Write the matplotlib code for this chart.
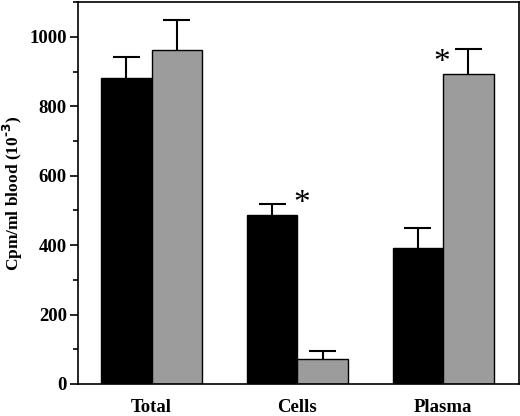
import numpy as np
import matplotlib
matplotlib.use("Agg")
import matplotlib.pyplot as plt
from matplotlib.ticker import MultipleLocator

# datos
categories = ["Total", "Cells", "Plasma"]
black_vals = [880, 487, 393]
black_err = [61, 31, 57]
gray_vals = [962, 71, 893]
gray_err = [86, 23, 71]
signif_black = [False, True, False]
signif_gray = [False, False, True]

plt.rcParams['font.family'] = ['Liberation Serif', 'DejaVu Serif']
plt.rcParams['font.weight'] = 'bold'

fig = plt.figure(figsize=(5.2, 4.16), dpi=100)
ax = fig.add_axes([0.15, 0.077, 0.848, 0.918])

x = np.arange(len(categories))
w = 0.346
cap = 0.093

ax.bar(x - w / 2, black_vals, w, color='black', edgecolor='black', linewidth=1.0, zorder=2)
ax.bar(x + w / 2, gray_vals, w, color='#9c9c9c', edgecolor='black', linewidth=1.0, zorder=2)

# barras de error solo hacia arriba
def up_err(xs, vals, errs):
    xs = np.asarray(xs)
    vals = np.asarray(vals)
    tops = vals + np.asarray(errs)
    ax.vlines(xs, vals, tops, color='black', linewidth=1.5, zorder=1)
    ax.hlines(tops, xs - cap, xs + cap, color='black', linewidth=1.5, zorder=1)

up_err(x - w / 2, black_vals, black_err)
up_err(x + w / 2, gray_vals, gray_err)

# asteriscos
for i in range(3):
    if signif_black[i]:
        ax.text(x[i] + 0.03, black_vals[i] + black_err[i] + 2, '*', fontsize=24,
                fontweight='normal', ha='center', va='center')
    if signif_gray[i]:
        ax.text(x[i] - 0.01, gray_vals[i] + gray_err[i] - 40, '*', fontsize=24,
                fontweight='normal', ha='center', va='center')

ax.set_xlim(-0.505, 2.52)
ax.set_ylim(0, 1100)
ax.set_xticks(x)
ax.set_xticklabels(categories, fontsize=13.5, fontweight='bold')
ax.tick_params(axis='x', length=0, pad=11)
ax.yaxis.set_major_locator(MultipleLocator(200))
ax.yaxis.set_minor_locator(MultipleLocator(100))
ax.tick_params(axis='y', which='major', length=6, width=1.2, labelsize=13.5, pad=2)
ax.tick_params(axis='y', which='minor', length=3.5, width=1.2)
for lab in ax.get_yticklabels():
    lab.set_fontweight('bold')
for s in ax.spines.values():
    s.set_linewidth(1.2)

ax.set_ylabel('Cpm/ml blood (10$^{\\text{-3}}$)', fontsize=12.5, fontweight='bold',
              va='center')
ax.yaxis.set_label_coords(-0.148, 0.5)

fig.savefig('out.png', dpi=100)
